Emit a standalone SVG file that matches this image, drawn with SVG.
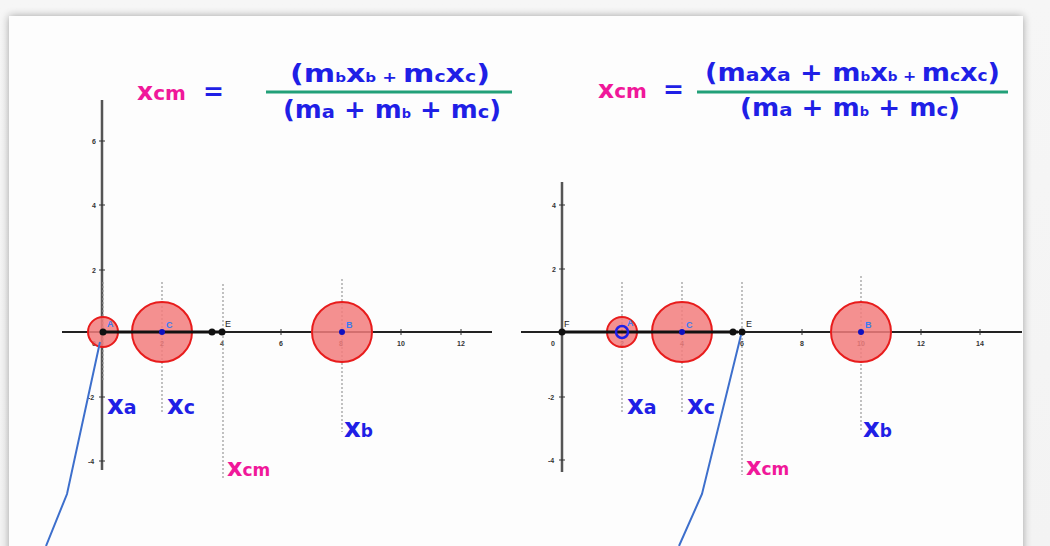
<svg xmlns="http://www.w3.org/2000/svg" width="1050" height="546" viewBox="0 0 1050 546">
<defs>
<filter id="sh" x="-5%" y="-5%" width="110%" height="110%">
<feGaussianBlur in="SourceAlpha" stdDeviation="4"/>
<feOffset dx="0" dy="0" result="b"/>
<feComponentTransfer><feFuncA type="linear" slope="0.35"/></feComponentTransfer>
<feMerge><feMergeNode/><feMergeNode in="SourceGraphic"/></feMerge>
</filter>
<linearGradient id="bg" x1="0" y1="0" x2="0" y2="1">
<stop offset="0" stop-color="#f6f6f6"/><stop offset="1" stop-color="#f3f3f3"/>
</linearGradient>
</defs>
<style>
.f{font-family:"DejaVu Sans","Liberation Sans",sans-serif;font-weight:bold;fill:#1f1fe6}
.p{font-family:"DejaVu Sans","Liberation Sans",sans-serif;font-weight:bold;fill:#f0189a}
.tk{font-family:"Liberation Sans",Arial,sans-serif;font-size:7px;font-weight:bold;fill:#333}
.pl{font-family:"Liberation Sans",Arial,sans-serif;font-size:9px;fill:#222}
.bl{font-family:"Liberation Sans",Arial,sans-serif;font-size:9px;font-weight:bold;fill:#3a7bf0}
.ax{stroke:#222;stroke-width:2}
.ay{stroke:#555;stroke-width:2.5}
.dot{stroke:#999;stroke-width:1.2;stroke-dasharray:2 2;fill:none}
.m{fill:#f27c7c;fill-opacity:0.85;stroke:#e81c1c;stroke-width:2}
.fl{stroke:#22a078;stroke-width:3}
.seg{stroke:#111;stroke-width:3}
.ann{fill:none;stroke:#3d6fcc;stroke-width:2}
</style>
<rect width="1050" height="546" fill="url(#bg)"/>
<rect x="9" y="16" width="1014" height="560" fill="#fdfdfd" filter="url(#sh)"/>

<g id="left-formula">
<text class="p" x="137" y="100" font-size="25">x<tspan font-size="20">cm</tspan></text>
<text class="f" x="203" y="100" font-size="25">=</text>
<line class="fl" x1="266" y1="92" x2="512" y2="92"/>
<text class="f" x="290" y="82" font-size="24" textLength="200" lengthAdjust="spacingAndGlyphs">(m<tspan font-size="12">b</tspan>x<tspan font-size="12">b</tspan><tspan font-size="14"> + </tspan>m<tspan font-size="15">c</tspan>x<tspan font-size="15">c</tspan>)</text>
<text class="f" x="283" y="118" font-size="24" textLength="218" lengthAdjust="spacingAndGlyphs">(m<tspan font-size="18">a</tspan> + m<tspan font-size="12">b</tspan> + m<tspan font-size="18">c</tspan>)</text>
</g>

<g id="right-formula">
<text class="p" x="598" y="98" font-size="25">x<tspan font-size="20">cm</tspan></text>
<text class="f" x="663" y="98" font-size="25">=</text>
<line class="fl" x1="697" y1="92" x2="1008" y2="92"/>
<text class="f" x="705" y="81" font-size="24" textLength="295" lengthAdjust="spacingAndGlyphs">(m<tspan font-size="18">a</tspan>x<tspan font-size="18">a</tspan> + m<tspan font-size="12">b</tspan>x<tspan font-size="12">b</tspan><tspan font-size="14"> + </tspan>m<tspan font-size="15">c</tspan>x<tspan font-size="15">c</tspan>)</text>
<text class="f" x="740" y="116" font-size="24" textLength="220" lengthAdjust="spacingAndGlyphs">(m<tspan font-size="18">a</tspan> + m<tspan font-size="12">b</tspan> + m<tspan font-size="18">c</tspan>)</text>
</g>

<g id="left-plot">
<line class="ay" x1="102" y1="100" x2="102" y2="470"/>
<line class="ax" x1="62" y1="332" x2="492" y2="332"/>
<g stroke="#333" stroke-width="1">
<line x1="99" y1="141" x2="105" y2="141"/><line x1="99" y1="205" x2="105" y2="205"/><line x1="99" y1="270" x2="105" y2="270"/>
<line x1="99" y1="397" x2="105" y2="397"/><line x1="99" y1="461" x2="105" y2="461"/>
<line x1="162" y1="329" x2="162" y2="335"/><line x1="222" y1="329" x2="222" y2="335"/><line x1="281" y1="329" x2="281" y2="335"/>
<line x1="341" y1="329" x2="341" y2="335"/><line x1="401" y1="329" x2="401" y2="335"/><line x1="461" y1="329" x2="461" y2="335"/>
</g>
<text class="tk" x="92" y="144">6</text><text class="tk" x="92" y="208">4</text><text class="tk" x="92" y="273">2</text>
<text class="tk" x="88" y="400">-2</text><text class="tk" x="88" y="464">-4</text>
<text class="tk" x="92" y="346">0</text><text class="tk" x="160" y="346">2</text><text class="tk" x="220" y="346">4</text>
<text class="tk" x="279" y="346">6</text><text class="tk" x="339" y="346">8</text><text class="tk" x="397" y="346">10</text><text class="tk" x="457" y="346">12</text>
<line class="dot" x1="103" y1="282" x2="103" y2="382"/>
<line class="dot" x1="162" y1="282" x2="162" y2="413"/>
<line class="dot" x1="223" y1="284" x2="223" y2="478"/>
<line class="dot" x1="342" y1="279" x2="342" y2="432"/>
<circle class="m" cx="103" cy="332" r="15"/>
<circle class="m" cx="162" cy="332" r="30"/>
<circle class="m" cx="342" cy="332" r="30"/>
<line class="seg" x1="102" y1="332" x2="220" y2="332"/>
<circle cx="103" cy="332" r="3.5" fill="#111"/>
<circle cx="162" cy="332" r="3" fill="#1010c0"/>
<circle cx="342" cy="332" r="3" fill="#1010c0"/>
<circle cx="212" cy="332" r="3.5" fill="#111"/>
<circle cx="222" cy="332" r="3.5" fill="#111"/>
<text class="bl" x="107" y="327">A</text>
<text class="bl" x="166" y="328">C</text>
<text class="bl" x="346" y="328">B</text>
<text class="pl" x="225" y="327">E</text>
<text class="f" x="107" y="414" font-size="26">x<tspan font-size="19">a</tspan></text>
<text class="f" x="167" y="414" font-size="26">x<tspan font-size="19">c</tspan></text>
<text class="f" x="344" y="437" font-size="26">x<tspan font-size="17">b</tspan></text>
<text class="p" x="227" y="476" font-size="24">x<tspan font-size="17">cm</tspan></text>
</g>

<g id="right-plot">
<line class="ay" x1="562" y1="182" x2="562" y2="472"/>
<line class="ax" x1="521" y1="332" x2="1022" y2="332"/>
<g stroke="#333" stroke-width="1">
<line x1="559" y1="205" x2="565" y2="205"/><line x1="559" y1="269" x2="565" y2="269"/>
<line x1="559" y1="397" x2="565" y2="397"/><line x1="559" y1="460" x2="565" y2="460"/>
<line x1="622" y1="329" x2="622" y2="335"/><line x1="682" y1="329" x2="682" y2="335"/><line x1="742" y1="329" x2="742" y2="335"/>
<line x1="802" y1="329" x2="802" y2="335"/><line x1="861" y1="329" x2="861" y2="335"/><line x1="921" y1="329" x2="921" y2="335"/><line x1="980" y1="329" x2="980" y2="335"/>
</g>
<text class="tk" x="552" y="208">4</text><text class="tk" x="552" y="272">2</text>
<text class="tk" x="548" y="400">-2</text><text class="tk" x="548" y="463">-4</text>
<text class="tk" x="551" y="346">0</text><text class="tk" x="620" y="346">2</text><text class="tk" x="680" y="346">4</text>
<text class="tk" x="740" y="346">6</text><text class="tk" x="800" y="346">8</text><text class="tk" x="857" y="346">10</text>
<text class="tk" x="917" y="346">12</text><text class="tk" x="976" y="346">14</text>
<line class="dot" x1="622" y1="282" x2="622" y2="413"/>
<line class="dot" x1="682" y1="282" x2="682" y2="413"/>
<line class="dot" x1="742" y1="282" x2="742" y2="475"/>
<line class="dot" x1="861" y1="276" x2="861" y2="432"/>
<circle class="m" cx="622" cy="332" r="15"/>
<circle class="m" cx="682" cy="332" r="30"/>
<circle class="m" cx="861" cy="332" r="30"/>
<line class="seg" x1="562" y1="332" x2="738" y2="332"/>
<circle cx="562" cy="332" r="3.5" fill="#111"/>
<circle cx="622" cy="332" r="6" fill="none" stroke="#1f1fe6" stroke-width="2.5"/>
<circle cx="682" cy="332" r="3" fill="#1010c0"/>
<circle cx="861" cy="332" r="3" fill="#1010c0"/>
<circle cx="733" cy="332" r="3.5" fill="#111"/>
<circle cx="742" cy="332" r="3.5" fill="#111"/>
<text class="pl" x="564" y="327">F</text>
<text class="bl" x="627" y="326">A</text>
<text class="bl" x="686" y="328">C</text>
<text class="bl" x="865" y="328">B</text>
<text class="pl" x="746" y="327">E</text>
<text class="f" x="627" y="414" font-size="26">x<tspan font-size="19">a</tspan></text>
<text class="f" x="687" y="414" font-size="26">x<tspan font-size="19">c</tspan></text>
<text class="f" x="863" y="437" font-size="26">x<tspan font-size="17">b</tspan></text>
<text class="p" x="746" y="475" font-size="24">x<tspan font-size="17">cm</tspan></text>
</g>

<g id="connectors">
<polyline class="ann" points="100,342 67,494 46,546"/>
<polyline class="ann" points="741,335 702,494 679,546"/>
</g>
</svg>
